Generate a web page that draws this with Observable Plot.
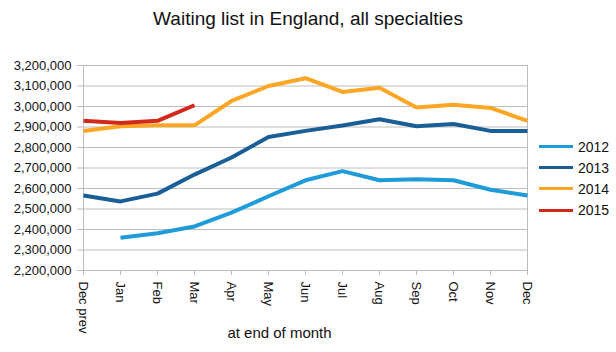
<!DOCTYPE html>
<html>
<head>
<meta charset="utf-8">
<script src="https://cdn.jsdelivr.net/npm/d3@7"></script>
<script src="https://cdn.jsdelivr.net/npm/@observablehq/plot@0.6"></script>
<style>
  html, body { margin: 0; padding: 0; background: #fff; }
  body { width: 616px; height: 352px; overflow: hidden; font-family: "Liberation Sans", Arial, sans-serif; color: #111; }
  #wrap { position: relative; width: 616px; height: 352px; }
  #title { height: 40px; box-sizing: border-box; padding-top: 8px; text-align: center; font-size: 19px; line-height: 22px; }
  #legend { position: absolute; left: 539px; top: 136px; font-size: 14px; }
  #legend .item { height: 21.2px; display: flex; align-items: center; }
  #legend .sw { display: inline-block; width: 34px; height: 3px; margin-right: 5px; }
</style>
</head>
<body>
<div id="wrap">
  <div id="title">Waiting list in England, all specialties</div>
  <div id="chart"></div>
  <div id="legend"></div>
</div>
<script>
const months = ["Dec prev", "Jan", "Feb", "Mar", "Apr", "May", "Jun", "Jul", "Aug", "Sep", "Oct", "Nov", "Dec"];
const seriesNames = ["2012", "2013", "2014", "2015"];
const seriesColors = ["#1f9bd8", "#1a5e98", "#fba624", "#d2291c"];
const values2012 = [null, 2360000, 2382000, 2415000, 2482000, 2562000, 2640000, 2685000, 2640000, 2645000, 2640000, 2594000, 2566000];
const values2013 = [2566000, 2537000, 2575000, 2668000, 2751000, 2851000, 2881000, 2907000, 2938000, 2904000, 2915000, 2881000, 2881000];
const values2014 = [2881000, 2904000, 2908000, 2908000, 3027000, 3100000, 3138000, 3071000, 3091000, 2995000, 3009000, 2993000, 2930000];
const values2015 = [2930000, 2920000, 2930000, 3006000, null, null, null, null, null, null, null, null, null];
const yTicks = d3.range(2200000, 3200001, 100000);

const allValues = [values2012, values2013, values2014, values2015];
const rows = [];
seriesNames.forEach((s, i) => {
  allValues[i].forEach((v, j) => {
    if (v != null) rows.push({series: s, month: months[j], value: v});
  });
});

const grid = "#bdbdbd";
const chart = Plot.plot({
  width: 616,
  height: 312,
  marginTop: 25,
  marginBottom: 82,
  marginLeft: 83,
  marginRight: 89,
  style: {fontFamily: "Liberation Sans, Arial, sans-serif", fontSize: "13px", color: "#111", background: "#fff"},
  x: {type: "point", domain: months, padding: 0},
  y: {domain: [2200000, 3200000]},
  color: {domain: seriesNames, range: seriesColors},
  marks: [
    Plot.gridY(yTicks, {stroke: grid, strokeOpacity: 1}),
    Plot.frame({stroke: grid}),
    Plot.axisY(yTicks, {tickSize: 6, tickPadding: 6, tickFormat: d3.format(","), stroke: grid, fill: "#111", fontSize: 13, label: null}),
    Plot.axisX({tickSize: 5, tickPadding: 6, tickRotate: 90, stroke: grid, fill: "#111", fontSize: 13, label: null}),
    Plot.line(rows, {x: "month", y: "value", z: "series", stroke: "series", strokeWidth: 4, strokeLinejoin: "round", strokeLinecap: "butt"}),
    Plot.text(["at end of month"], {frameAnchor: "bottom", dx: -26, dy: 67, fontSize: 15, fill: "#111"})
  ]
});
document.getElementById("chart").appendChild(chart);

const legend = document.getElementById("legend");
seriesNames.forEach((s, i) => {
  const item = document.createElement("div");
  item.className = "item";
  const sw = document.createElement("span");
  sw.className = "sw";
  sw.style.background = seriesColors[i];
  item.appendChild(sw);
  item.appendChild(document.createTextNode(s));
  legend.appendChild(item);
});
</script>
</body>
</html>
